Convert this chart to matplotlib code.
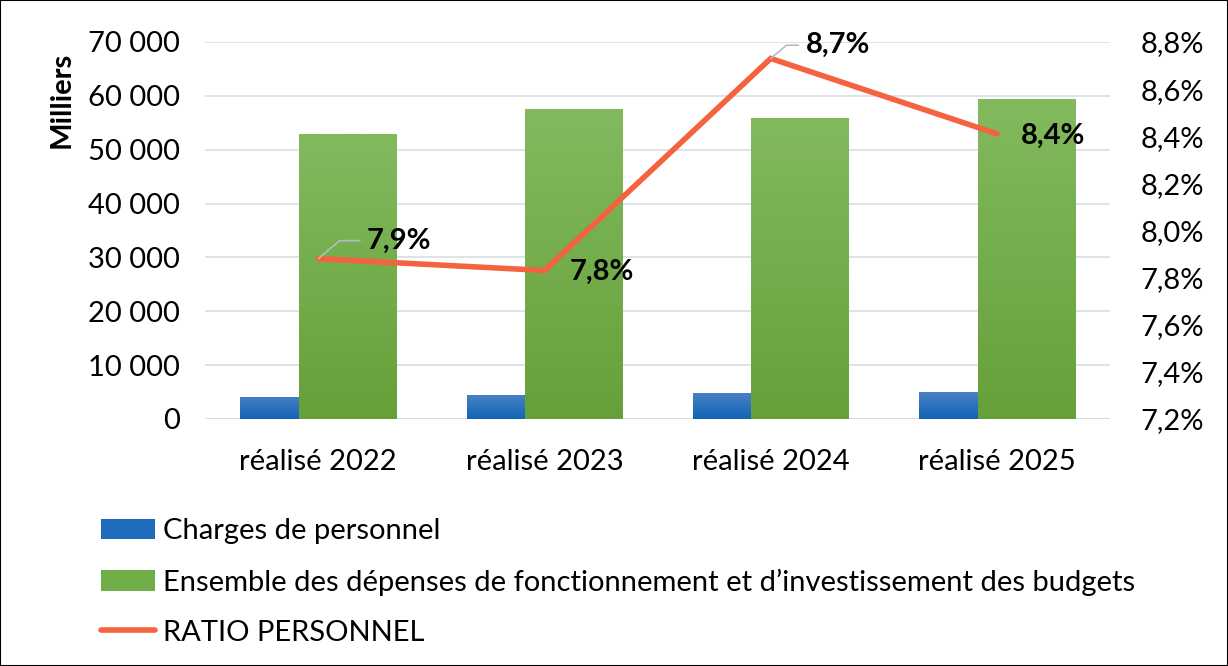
import matplotlib
matplotlib.use("Agg")
import matplotlib.pyplot as plt
import numpy as np
from matplotlib.patches import Patch, Rectangle
from matplotlib.lines import Line2D
from matplotlib.colors import LinearSegmentedColormap

categories = ["réalisé 2022", "réalisé 2023", "réalisé 2024", "réalisé 2025"]
charges_personnel = [4100, 4450, 4800, 5000]
depenses_totales = [52900, 57550, 55900, 59400]
ratio_personnel = [7.88, 7.83, 8.73, 8.41]
ratio_labels = ["7,9%", "7,8%", "8,7%", "8,4%"]

plt.rcParams["font.family"] = ["Lato", "DejaVu Sans"]

BLUE = "#1f6bbd"
GREEN = "#70ad47"
RED = "#f4623f"
blue_cmap = LinearSegmentedColormap.from_list("b", ["#0f64b4", "#4a80c6"])
green_cmap = LinearSegmentedColormap.from_list("g", ["#66a039", "#82ba5e"])


def gradient_bars(ax, bars, cmap, zorder):
    grad = np.linspace(0, 1, 256).reshape(-1, 1)
    for b in bars:
        b.set_facecolor("none")
        b.set_edgecolor("none")
        x0, y0 = b.get_x(), b.get_y()
        im = ax.imshow(grad, cmap=cmap, origin="lower", aspect="auto",
                       extent=(x0, x0 + b.get_width(), y0, y0 + b.get_height()),
                       zorder=zorder)
        im.set_clip_path(b)


fig = plt.figure(figsize=(12.28, 6.66), dpi=100)
fig.patches.append(Rectangle((0, 0), 1, 1, transform=fig.transFigure,
                             fill=False, edgecolor="black", linewidth=1.5))

ax = fig.add_axes([0.167, 0.371, 0.737, 0.566])
x = np.arange(len(categories))
w = 0.43
b1 = ax.bar(x - 0.129, charges_personnel, w, zorder=2)
b2 = ax.bar(x + 0.129, depenses_totales, w, zorder=3)
gradient_bars(ax, b1, blue_cmap, 2)
gradient_bars(ax, b2, green_cmap, 3)

ax.set_xlim(-0.5, 3.5)
ax.set_ylim(0, 70000)
ticks = np.arange(0, 70001, 10000)
ax.set_yticks(ticks)
ax.set_yticklabels([f"{t:,}".replace(",", " ") for t in ticks])
ax.set_xticks(x)
ax.set_xticklabels(categories)
ax.tick_params(axis="y", length=0, labelsize=21, pad=18)
ax.tick_params(axis="x", length=0, labelsize=21, pad=22)
ax.grid(axis="y", color="#d9dde3", linewidth=1.2, zorder=0)
ax.set_axisbelow(True)
for s in ax.spines.values():
    s.set_visible(False)
ax.axhline(0, color="#d9dde3", linewidth=1.5, zorder=1)
fig.text(0.05, 0.85, "Milliers", rotation=90, fontsize=21, fontweight="bold",
         ha="center", va="center")

ax2 = ax.twinx()
ax2.plot(x, ratio_personnel, color=RED, linewidth=4, solid_capstyle="round",
         solid_joinstyle="miter", zorder=5)
ax2.set_ylim(7.2, 8.8)
rticks = np.arange(7.2, 8.81, 0.2)
ax2.set_yticks(rticks)
ax2.set_yticklabels([f"{t:.1f}%".replace(".", ",") for t in rticks])
ax2.tick_params(axis="y", length=0, labelsize=21, pad=22)
for s in ax2.spines.values():
    s.set_visible(False)

# data labels (offsets in points)
offsets = [(35, 13), (18, -1), (25, 9.5), (17, -1.5)]
leaders = [True, False, True, False]
for i, (lab, off, lead) in enumerate(zip(ratio_labels, offsets, leaders)):
    kw = dict(textcoords="offset points", fontsize=21, fontweight="bold",
              ha="left", va="center", zorder=6)
    if lead:
        kw["arrowprops"] = dict(arrowstyle="-", color="#b4bcc6", lw=1.2,
                                connectionstyle="angle,angleA=0,angleB=40,rad=0",
                                shrinkA=3, shrinkB=0)
    ax2.annotate(lab, (x[i], ratio_personnel[i]), xytext=off, **kw)

handles = [Patch(facecolor=BLUE), Patch(facecolor=GREEN),
           Line2D([0], [0], color=RED, linewidth=4, solid_capstyle="round")]
labels = ["Charges de personnel",
          "Ensemble des dépenses de fonctionnement et d\u2019investissement des budgets",
          "RATIO PERSONNEL"]
fig.legend(handles, labels, loc="upper left", bbox_to_anchor=(0.073, 0.239),
           frameon=False, fontsize=21, handlelength=1.85, handleheight=0.7,
           handletextpad=0.25, labelspacing=0.82, borderaxespad=0)

fig.savefig("out.png", dpi=100)
